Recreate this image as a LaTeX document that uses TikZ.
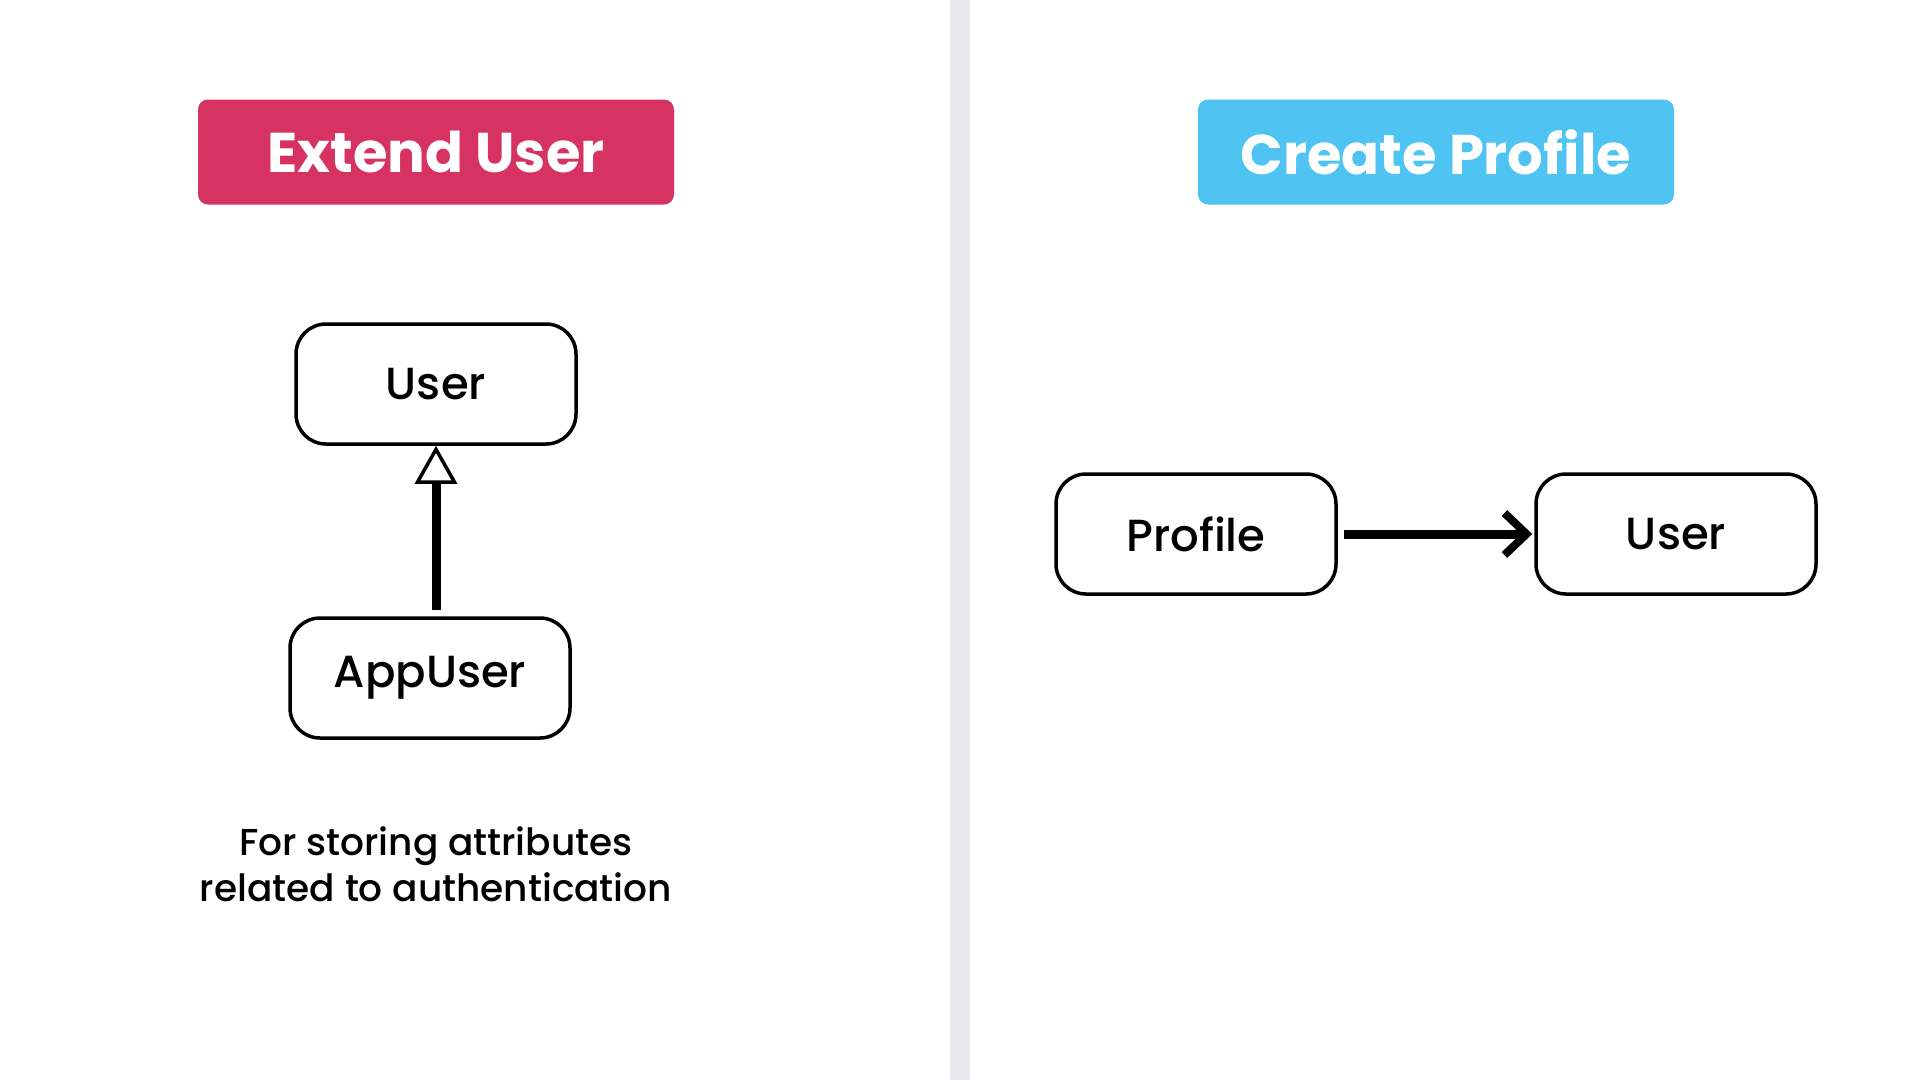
\documentclass[tikz,border=0pt]{standalone}
\usepackage{fontspec}
\setmainfont{Poppins}
\newfontfamily\mediumface{Poppins Medium}
\usetikzlibrary{arrows.meta}
\definecolor{divider}{HTML}{E8E9EE}
\definecolor{extendred}{HTML}{D63362}
\definecolor{profileblue}{HTML}{4FC3F1}
\tikzset{
  banner/.style={rounded corners=10pt, text=white, font=\bfseries\fontsize{56}{60}\selectfont,
    minimum width=476pt, minimum height=105pt, inner sep=0pt},
  entity/.style={draw=black, line width=3.5pt, rounded corners=30pt, fill=white,
    minimum width=280pt, minimum height=120pt, inner sep=0pt,
    font=\mediumface\fontsize{45}{48}\selectfont},
  caption/.style={align=center, font=\mediumface\fontsize{37.5}{46}\selectfont},
  inherits/.style={line width=9pt, -{Triangle[open, fill=white, length=38pt, width=42pt, line width=3.5pt]}},
  refers/.style={line width=9pt, -{Straight Barb[length=22pt, width=42pt, line width=8pt]}}
}
\begin{document}
\begin{tikzpicture}[x=1pt, y=-1pt]
  % page area
  \fill[white] (0,0) rectangle (1920,1080);
  \useasboundingbox (0,0) rectangle (1920,1080);
  % vertical separator between the two approaches
  \fill[divider] (950,0) rectangle (970,1080);

  % left half: inheritance
  \node[banner, fill=extendred] (extend) at (436,152) {Extend User};
  \node[entity] (baseuser) at (436,384) {User};
  \node[entity] (appuser) at (430,678) {AppUser};
  \coordinate (inhstart) at ([yshift=6pt]appuser.north -| baseuser.south);
  \draw[inherits] (inhstart) -- (baseuser.south);
  \node[caption] (note) at (436,864) {For storing attributes\\related to authentication};

  % right half: separate profile
  \node[banner, fill=profileblue] (create) at (1436,152) {Create Profile};
  \node[entity] (profile) at (1196,534) {Profile};
  \node[entity] (linkeduser) at (1676,534) {User};
  \draw[refers] ([xshift=6pt]profile.east) -- ([xshift=-2pt]linkeduser.west);
\end{tikzpicture}
\end{document}
